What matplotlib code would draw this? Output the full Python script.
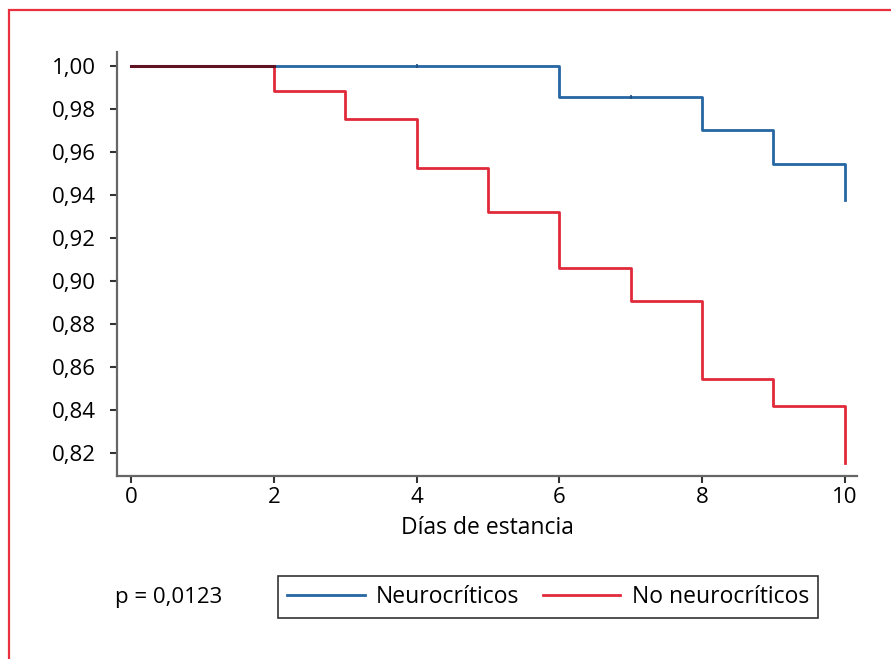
import matplotlib

matplotlib.use('Agg')
import matplotlib.pyplot as plt
from matplotlib.lines import Line2D
from matplotlib.patches import Rectangle
import numpy as np

plt.rcParams['font.family'] = ['Open Sans', 'DejaVu Sans']

# Kaplan-Meier step values
days = [0, 1, 2, 3, 4, 5, 6, 7, 8, 9, 10]
neuro = [1.0, 1.0, 1.0, 1.0, 1.0, 1.0, 0.9855, 0.9855, 0.970, 0.9544, 0.9377]
no_neuro = [1.0, 1.0, 0.9884, 0.9753, 0.9526, 0.932, 0.906, 0.8907, 0.8544, 0.8419, 0.8153]
neuro_censored = [4, 7]

y_ticks = [0.82, 0.84, 0.86, 0.88, 0.90, 0.92, 0.94, 0.96, 0.98, 1.00]
x_ticks = [0, 2, 4, 6, 8, 10]

BLUE = '#2566a3'
RED = '#e02a3a'
DARK = '#5e1222'

fig = plt.figure(figsize=(8.91, 6.59), dpi=100)

# red frame around the figure
fig.patches.append(Rectangle((9 / 891, -0.05), 1.1, 1 - 10 / 659 + 0.05,
                             transform=fig.transFigure, fill=False,
                             edgecolor='#e8303e', linewidth=1.6))

ax = fig.add_axes([117 / 891, 1 - 476 / 659, (857 - 117) / 891, (476 - 52) / 659])

x = np.array(days)
ax.step(x, neuro, where='post', color=BLUE, lw=2.0, zorder=3)
ax.step(x, no_neuro, where='post', color=RED, lw=2.0, zorder=4)

# overlapping stretch where both curves are still at 1.0
shared = [d for d, a, b in zip(days, neuro, no_neuro) if a == 1.0 and b == 1.0]
ax.plot([shared[0], shared[-1] + 1], [1.0, 1.0], color=DARK, lw=2.2, zorder=5)

# censor marks
for d in neuro_censored:
    ax.plot(d, neuro[days.index(d)], marker='|', color='#1d4f80', ms=3, mew=1.2, zorder=6)

ax.set_xlim(-0.196, 10.17)
ax.set_ylim(0.8093, 1.0065)
ax.set_xticks(x_ticks)
ax.set_yticks(y_ticks)
ax.set_yticklabels([f'{v:.2f}'.replace('.', ',') for v in y_ticks])
ax.set_xticklabels([str(v) for v in x_ticks])
ax.tick_params(axis='both', labelsize=16, color='#333333', width=1.5, length=5)
ax.tick_params(axis='x', pad=3)
ax.tick_params(axis='y', pad=10)

for side in ('top', 'right'):
    ax.spines[side].set_visible(False)
for side in ('left', 'bottom'):
    ax.spines[side].set_color('#666666')
    ax.spines[side].set_linewidth(1.6)

ax.set_xlabel('Días de estancia', fontsize=16.5, labelpad=6)

fig.text(115 / 891, 1 - 597 / 659, 'p = 0,0123', fontsize=16, va='center', ha='left')

handles = [Line2D([], [], color=BLUE, lw=2.0), Line2D([], [], color=RED, lw=2.0)]
leg = fig.legend(handles, ['Neurocríticos', 'No neurocríticos'], ncol=2,
                 loc='center', bbox_to_anchor=(548 / 891, 1 - 597 / 659),
                 fontsize=16.5, frameon=True, fancybox=False, shadow=False,
                 handlelength=3.4, columnspacing=1.0, handletextpad=0.5,
                 borderpad=0.4)
leg.get_frame().set_edgecolor('black')
leg.get_frame().set_linewidth(1.2)

fig.savefig('out.png', dpi=100)
